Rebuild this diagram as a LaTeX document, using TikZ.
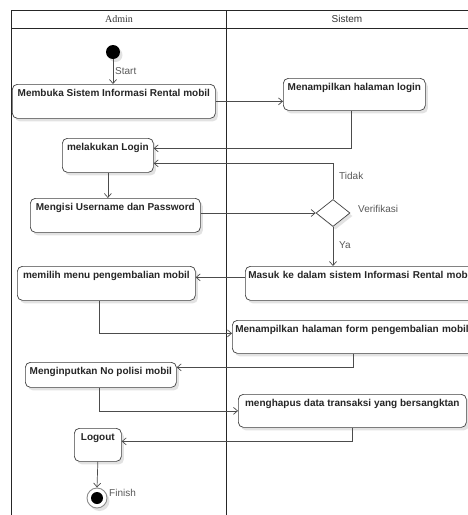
\documentclass[tikz,border=0pt]{standalone}
\usepackage{fontspec}
\setmainfont{Liberation Serif}
\setsansfont{Liberation Sans}
\usetikzlibrary{arrows.meta,shapes.geometric,shadows,calc}
\begin{document}
\begin{tikzpicture}[x=1pt,y=-1pt,
  shad/.style={drop shadow={shadow xshift=2.5pt,shadow yshift=-3pt,fill=black!22}},
  actbox/.style={draw=black!75,line width=0.7pt,rounded corners=5pt,fill=white,shad,
    font=\sffamily\bfseries\fontsize{10}{12}\selectfont,text=black!85,
    anchor=north west,inner xsep=3pt,inner ysep=4pt,text height=8pt,align=center},
  flow/.style={draw=black!70,line width=0.7pt,-{Straight Barb[length=4pt,width=7pt]}},
  lbl/.style={font=\sffamily\fontsize{10}{12}\selectfont,text=black!65,anchor=west,inner sep=1pt},
  hdr/.style={font=\fontsize{10}{12}\selectfont,text=black!80}]
\useasboundingbox (0,0) rectangle (468,515);
\fill[white] (0,0) rectangle (468,515);
\clip (0,0) rectangle (468,515);
% frame
\draw[line width=0.9pt,black!85] (11.7,10) rectangle (470,520);
\draw[line width=0.9pt,black!85] (11.7,28) -- (470,28);
\draw[line width=0.9pt,black!85] (226,10) -- (226,520);
\node[hdr] (hA) at (119,19) {Admin};
\node[hdr,font=\sffamily\fontsize{10}{12}\selectfont] (hS) at (347,19) {Sistem};
% start / end
\node[circle,fill=black,minimum size=14pt,inner sep=0pt,shad] (start) at (113,52) {};
\node[circle,draw=black!45,line width=0.9pt,fill=white,minimum size=20pt,inner sep=0pt,shad] (end) at (97,498) {};
\node[circle,fill=black,minimum size=12pt,inner sep=0pt] (endin) at (end) {};
% activities
\node[actbox,minimum width=203pt,text depth=18pt] (B1) at (12,84) {Membuka Sistem Informasi Rental mobil};
\node[actbox,minimum width=142pt,text depth=16pt] (B2) at (283,78) {Menampilkan halaman login};
\node[actbox,minimum width=91pt,text depth=18pt] (B3) at (62,138) {melakukan Login};
\node[actbox,minimum width=170pt,text depth=18pt] (B4) at (30,198) {Mengisi Username dan Password};
\node[diamond,draw=black!75,line width=0.7pt,fill=white,shad,minimum width=34pt,minimum height=27pt,inner sep=0pt] (D) at (333,213) {};
\node[actbox,minimum width=178pt,text depth=18pt] (B5) at (17,266) {memilih menu pengembalian mobil};
\node[actbox,text width=236pt,align=left,text depth=18pt] (B6) at (245,266) {Masuk ke dalam sistem Informasi Rental mobil};
\node[actbox,text width=257pt,align=left,text depth=17pt] (B7) at (232,320) {Menampilkan halaman form pengembalian mobil};
\node[actbox,minimum width=151pt,text depth=9pt] (B8) at (25,362) {Menginputkan No polisi mobil};
\node[actbox,minimum width=228pt,text depth=17pt] (B9) at (238,394) {menghapus data transaksi yang bersangktan};
\node[actbox,minimum width=47pt,text depth=17pt] (B10) at (74,428) {Logout};
% labels
\node[lbl] (lStart) at (114,71) {Start};
\node[lbl] (lTidak) at (338,176) {Tidak};
\node[lbl] (lVer) at (357,209) {Verifikasi};
\node[lbl] (lYa) at (338,245) {Ya};
\node[lbl] (lFin) at (108,493) {Finish};
% flows
\draw[flow] (start) -- (start |- B1.north);
\draw[flow] (B1.east) -- (B1.east -| B2.west);
\draw[flow] ([xshift=-3pt]B2.south) |- ([yshift=7pt]B3.east);
\draw[flow] (D.north) |- ([yshift=-8pt]B3.east);
\draw[flow] (B3.south) -- (B3.south |- B4.north);
\draw[flow] (B4.east |- D.west) -- (D.west);
\draw[flow] (D.south) -- (D.south |- B6.north);
\draw[flow] ([yshift=6pt]B6.west) -- ([yshift=6pt]B6.west -| B5.east);
\draw[flow] ([xshift=-7pt]B5.south) |- ([yshift=3.5pt]B7.west);
\draw[flow] ([xshift=-10.5pt]B7.south) |- ([yshift=7.5pt]B8.east);
\draw[flow] ([xshift=-1.5pt]B8.south) |- (B9.west);
\draw[flow] (B9.south) |- ([yshift=3.5pt]B10.east);
\draw[flow] (B10.south) -- (end.north);
\end{tikzpicture}
\end{document}
